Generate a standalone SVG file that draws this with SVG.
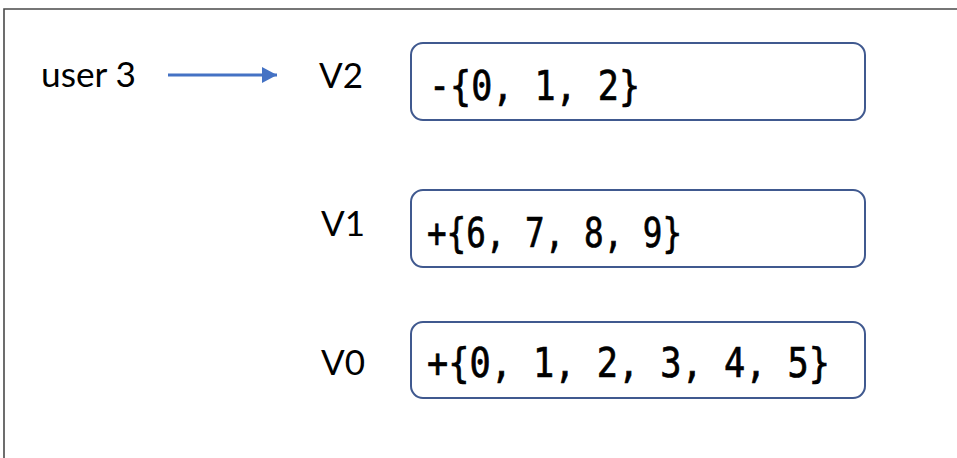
<svg xmlns="http://www.w3.org/2000/svg" width="957" height="458" viewBox="0 0 957 458">
  <style>
    .lbl { font-family: Lato, "Liberation Sans", Arial, sans-serif; font-size: 34px; fill: #000; }
    .ver { font-family: Lato, "Liberation Sans", Arial, sans-serif; font-size: 35px; fill: #000; }
    .box { fill: #fff; stroke: #40598f; stroke-width: 2; }
    .set { font-family: "DejaVu Sans Mono", "Liberation Mono", monospace; font-size: 40px; fill: #000; stroke: #000; stroke-width: 0.7; }
  </style>
  <defs>
    <marker id="ah" markerUnits="userSpaceOnUse" markerWidth="16" markerHeight="18" refX="15" refY="9" orient="auto">
      <path d="M0,1 L15,9 L0,17 Z" fill="#4472c4"/>
    </marker>
  </defs>
  <rect width="957" height="458" fill="#fff"/>
  <g id="frame">
    <path d="M4,458 L4,9 L957,9" fill="none" stroke="#4a4a4a" stroke-width="1.6"/>
  </g>
  <g id="user3">
    <text class="lbl" x="41" y="87" textLength="95" lengthAdjust="spacingAndGlyphs">user 3</text>
  </g>
  <g id="v2">
    <text class="ver" x="319" y="88">V2</text>
    <rect class="box" x="411" y="43" width="454" height="77" rx="12"/>
    <text class="set" x="429" y="100" textLength="211" lengthAdjust="spacingAndGlyphs">-{0, 1, 2}</text>
  </g>
  <g id="v1">
    <text class="ver" x="321" y="236">V1</text>
    <rect class="box" x="411" y="190" width="454" height="77" rx="12"/>
    <text class="set" x="427" y="247" textLength="255" lengthAdjust="spacingAndGlyphs">+{6, 7, 8, 9}</text>
  </g>
  <g id="v0">
    <text class="ver" x="321" y="375">V0</text>
    <rect class="box" x="411" y="322" width="454" height="76" rx="12"/>
    <text class="set" x="427" y="377" textLength="403" lengthAdjust="spacingAndGlyphs">+{0, 1, 2, 3, 4, 5}</text>
  </g>
  <g id="connectors">
    <line x1="168" y1="75" x2="277" y2="75" stroke="#4472c4" stroke-width="3" marker-end="url(#ah)"/>
  </g>
</svg>
